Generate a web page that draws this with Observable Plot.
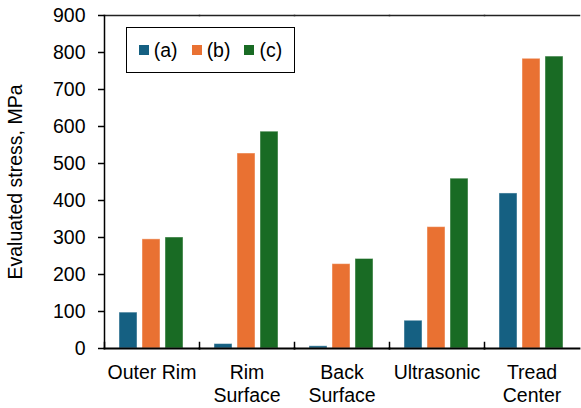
<!DOCTYPE html>
<html><head><meta charset="utf-8">
<script src="https://cdn.jsdelivr.net/npm/d3@7"></script>
<script src="https://cdn.jsdelivr.net/npm/@observablehq/plot@0.6"></script>
<style>
body{margin:0;background:#fff;font-family:"Liberation Sans",Arial,sans-serif;}
#wrap{position:relative;width:581px;height:408px;}
#legend{position:absolute;left:126px;top:27px;width:169px;height:46px;box-sizing:border-box;border:1.5px solid #000;background:#fff;display:flex;align-items:center;justify-content:center;}
.lg-swatches{margin:0 !important;min-height:0 !important;font-family:"Liberation Sans",Arial,sans-serif !important;font-size:19.5px !important;color:#000 !important;}
.lg-swatch{margin-right:14px !important;font-size:19.5px !important;}
.lg-swatch:last-child{margin-right:0 !important;}
.lg-swatch > svg{margin-right:5px !important;}
</style></head><body><div id="wrap"><div id="legend"></div></div>
<script>
const categories = ["Outer Rim", "Rim\nSurface", "Back\nSurface", "Ultrasonic", "Tread\nCenter"];
const seriesNames = ["(a)", "(b)", "(c)"];
const valuesA = [97, 12, 6, 75, 419];
const valuesB = [295, 527, 228, 328, 783];
const valuesC = [300, 586, 242, 459, 789];
const seriesColors = ["#156082", "#E97132", "#196B24"];
const yTicks = [0, 100, 200, 300, 400, 500, 600, 700, 800, 900];
const yLabel = "Evaluated stress, MPa";

const seriesValues = [valuesA, valuesB, valuesC];
const data = categories.flatMap((cat, i) =>
  seriesNames.map((s, j) => ({cat, series: s, value: seriesValues[j][i]})));

const font = "'Liberation Sans', Arial, sans-serif";

const plot = Plot.plot({
  width: 581, height: 408,
  marginTop: 15, marginRight: 0, marginBottom: 60, marginLeft: 102,
  style: {fontFamily: font, fontSize: "19.5px", color: "#000", background: "#fff"},
  fx: {domain: categories, paddingInner: 0, paddingOuter: 0, label: null, axis: null},
  x: {domain: seriesNames, paddingInner: 0.21, paddingOuter: 0.6, axis: null},
  y: {domain: [0, 900]},
  color: {domain: seriesNames, range: seriesColors},
  marks: [
    Plot.barY(data, {fx: "cat", x: "series", y: "value", fill: "series", stroke: "#fff", strokeOpacity: 0.45, strokeWidth: 1}),
    Plot.frame({anchor: "top", stroke: "#222", strokeWidth: 1.5}),
    Plot.frame({anchor: "bottom", stroke: "#000", strokeWidth: 1.8}),
    Plot.frame({anchor: "left", insetTop: 327, stroke: "#000", strokeWidth: 1.5}),
    Plot.frame({anchor: "left", facet: "super", stroke: "#000", strokeWidth: 1.5}),
    Plot.axisY({ticks: yTicks, tickSize: 6, tickPadding: 13, label: yLabel, labelAnchor: "center", labelArrow: "none", labelOffset: 96, strokeWidth: 1.5}),
    Plot.axisFx({anchor: "bottom", tickSize: 0, tickPadding: 14, label: null, lineHeight: 1.17})
  ]
});
document.getElementById("wrap").prepend(plot);
plot.style.display = "block";

const leg = Plot.legend({
  color: {domain: seriesNames, range: seriesColors},
  legend: "swatches", swatchSize: 10, className: "lg",
  style: {fontFamily: font, fontSize: "19.5px", color: "#000"}
});
document.getElementById("legend").appendChild(leg);
</script>
</body></html>
